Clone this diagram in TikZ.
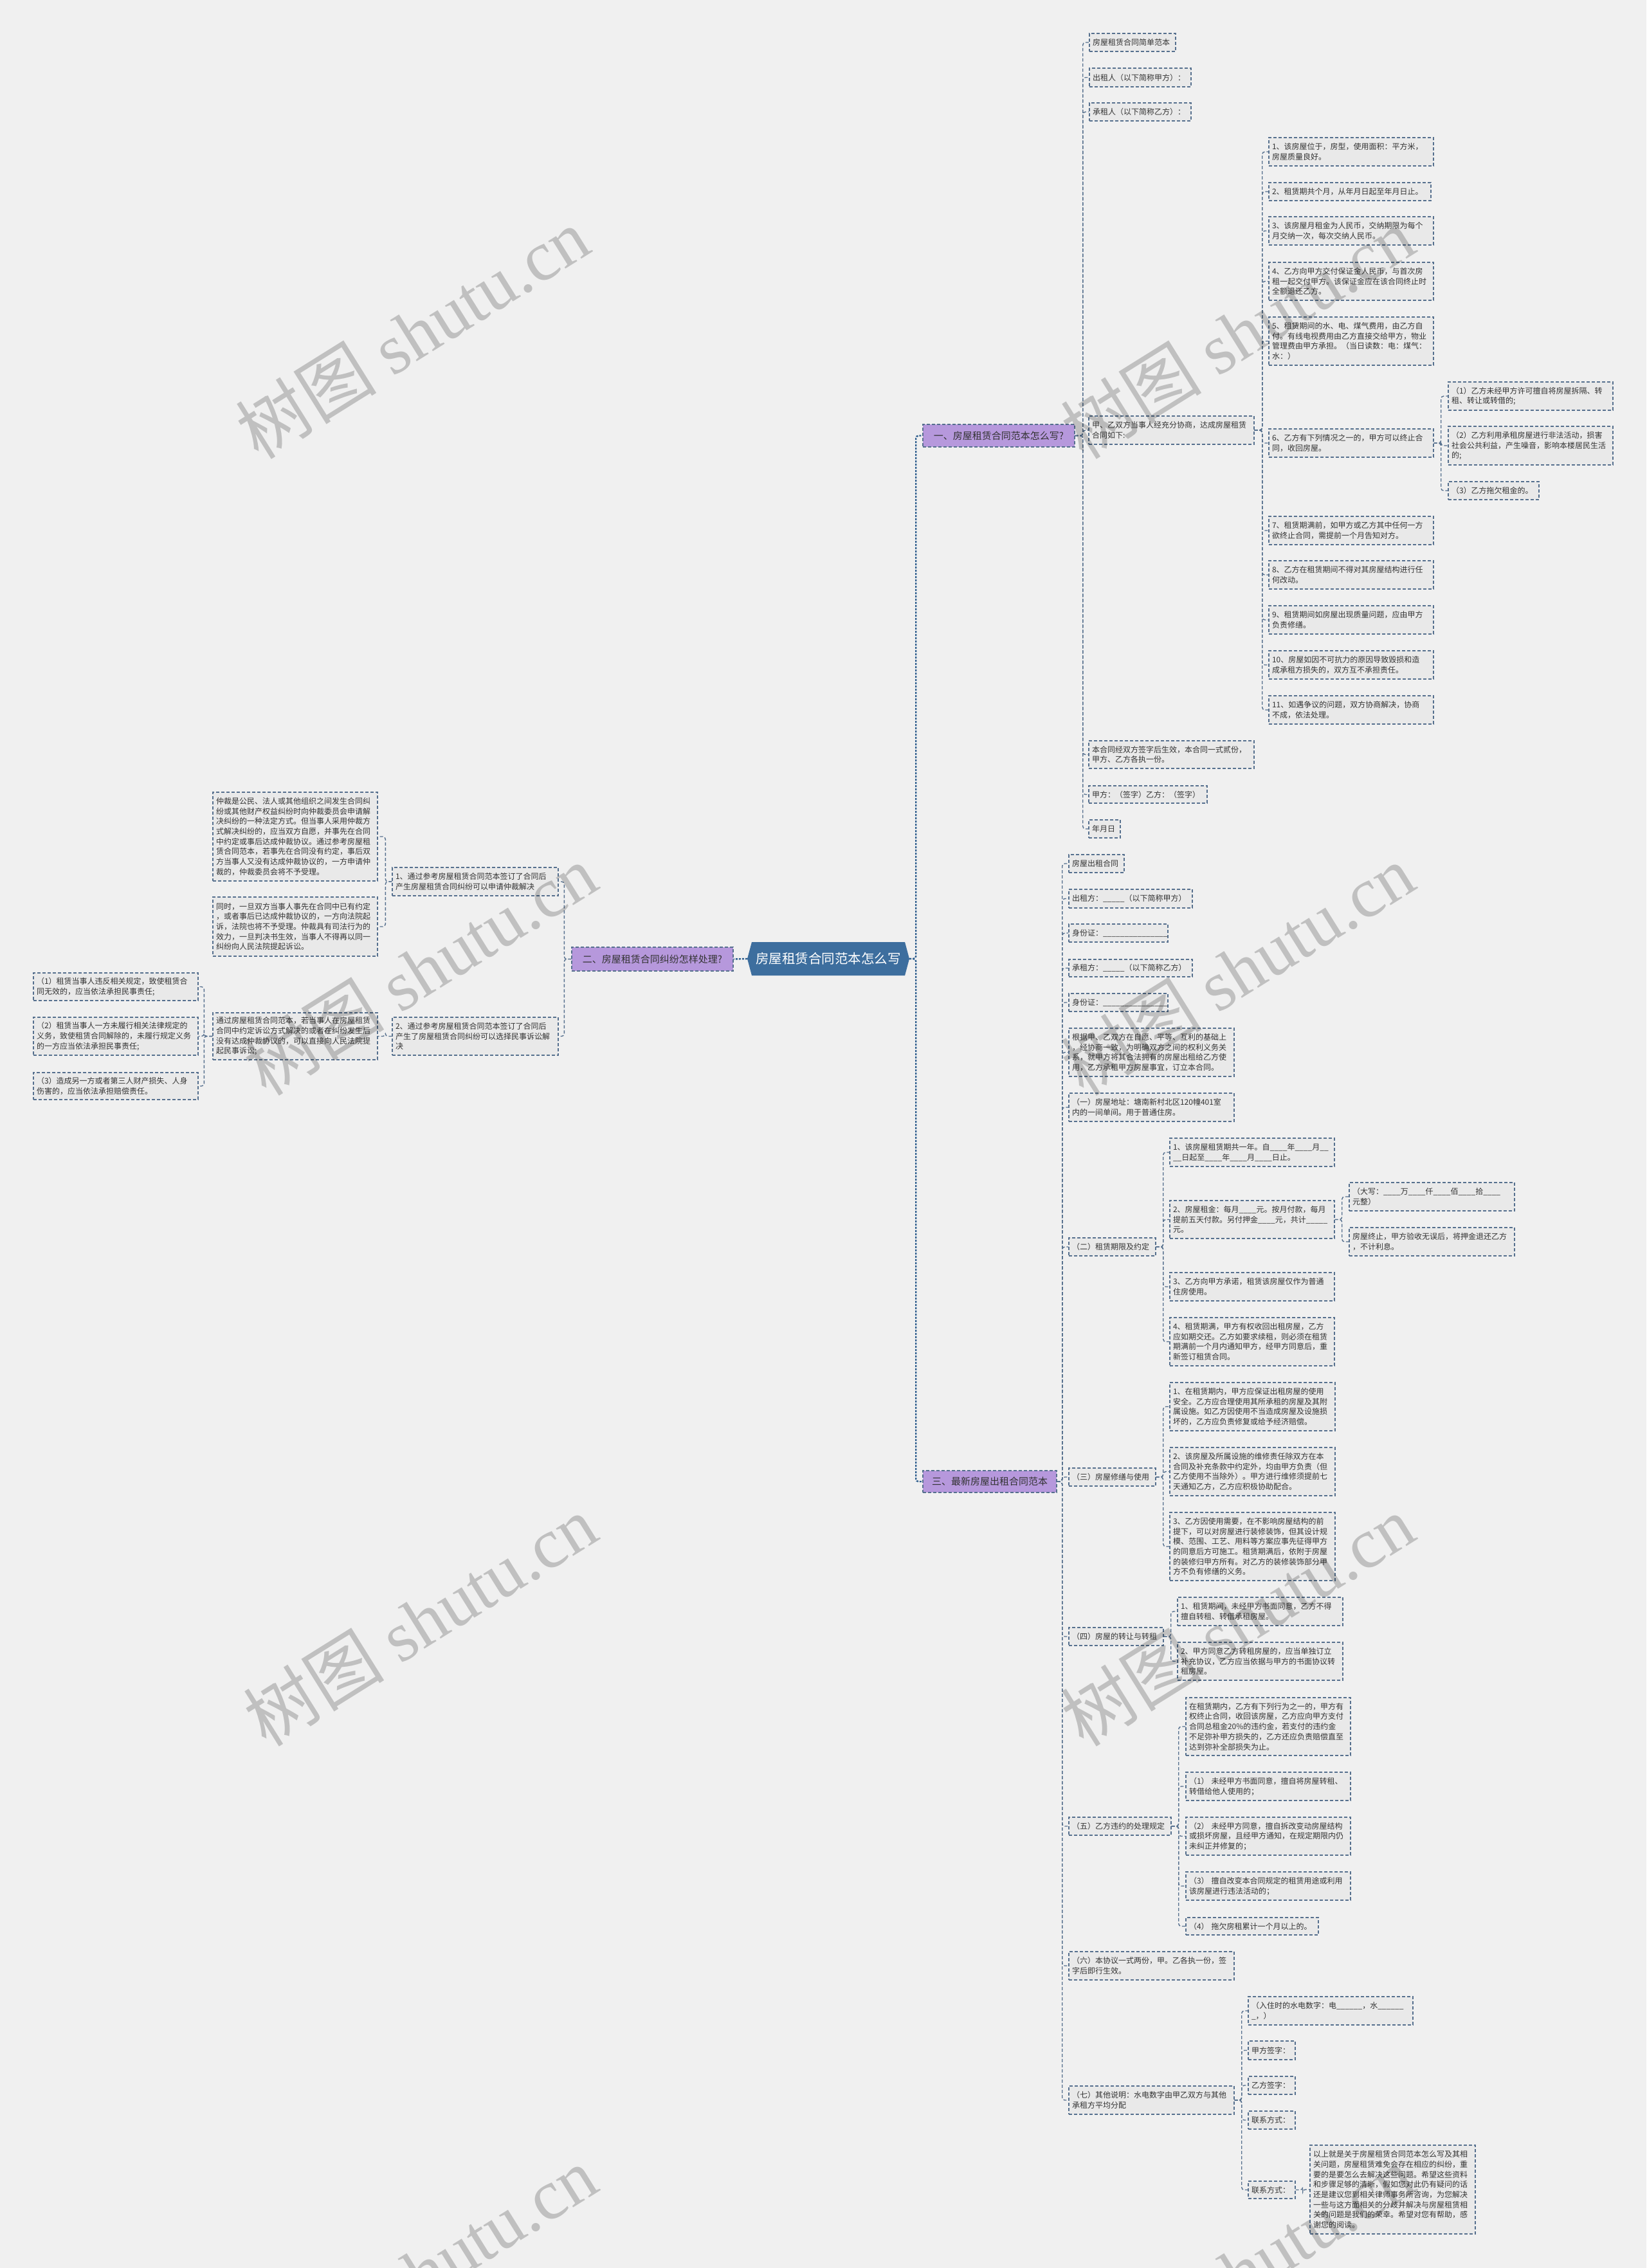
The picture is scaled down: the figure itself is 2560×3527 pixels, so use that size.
\documentclass[tikz,border=0pt]{standalone}
\usepackage{fontspec}
\setmainfont{Noto Sans CJK SC}
\newfontfamily\wmfont{Liberation Serif}
\usetikzlibrary{shapes.symbols}
\definecolor{bgc}{HTML}{F0F0F0}
\definecolor{boxfill}{HTML}{E9E9E9}
\definecolor{boxline}{HTML}{56708E}
\definecolor{connc}{HTML}{56708E}
\definecolor{mainc}{HTML}{2F5F8F}
\definecolor{purp}{HTML}{B698DC}
\definecolor{centc}{HTML}{3D6E9E}
\definecolor{txt}{HTML}{333333}
\tikzset{
 box/.style={draw=boxline, fill=boxfill, dash pattern=on 5pt off 3pt, line width=1.4pt, inner xsep=5pt, inner ysep=2pt, align=left, text=txt, font=\fontsize{12}{15.7}\selectfont},
 branch/.style={draw=boxline, fill=purp, dash pattern=on 5pt off 3pt, line width=1.4pt, inner xsep=6pt, inner ysep=2pt, text=txt, font=\fontsize{15}{18}\selectfont},
 conn/.style={draw=connc, dash pattern=on 5pt off 3pt, line width=1.4pt, rounded corners=4pt},
 mainconn/.style={draw=mainc, dash pattern=on 3pt off 2pt, line width=2.4pt, rounded corners=4pt},
 wmark/.style={rotate=32, opacity=0.2, text=black, font=\fontsize{110}{120}\selectfont},
}
\newcommand\bx[6]{\pgfmathsetmacro\mytw{#4-10}\node[box, text width=\mytw pt, minimum height=#5pt] (#1) at ({#2+#4/2},{#3+#5/2}) {#6};}
\newcommand\cR[3]{\foreach \cc in {#3}{\draw[conn] (#1.east) -- ++(#2,0) |- (\cc.west);}}
\newcommand\cL[3]{\foreach \cc in {#3}{\draw[conn] (#1.west) -- ++(-#2,0) |- (\cc.east);}}
\begin{document}
\begin{tikzpicture}[x=1pt,y=-1pt]
\useasboundingbox (0,0) rectangle (2560,3527);
\clip (0,0) rectangle (2560,3527);
\fill[bgc] (0,0) rectangle (2560,3527);

% center and branches
\node[shape=signal, signal to=west and east, signal pointer angle=150, fill=centc, minimum width=252pt, minimum height=52pt, inner sep=0pt, text=white, font=\fontsize{20.5}{24}\selectfont] (C) at (1288,1491) {房屋租赁合同范本怎么写};
\node[branch, minimum width=236pt, minimum height=35pt] (B1) at (1553,677.5) {一、房屋租赁合同范本怎么写?};
\node[branch, minimum width=251pt, minimum height=37pt] (B2) at (1014.5,1491.5) {二、房屋租赁合同纠纷怎样处理?};
\node[branch, minimum width=208pt, minimum height=34pt] (B3) at (1539,2304) {三、最新房屋出租合同范本};

% branch 1
\bx{a1}{1694}{52}{134}{28}{房屋租赁合同简单范本}
\bx{b1}{1694}{106}{158}{29}{出租人（以下简称甲方）：}
\bx{c1}{1694}{160}{158}{28}{承租人（以下简称乙方）：}
\bx{d1}{1693}{647}{257}{44}{甲、乙双方当事人经充分协商，达成房屋租赁\\合同如下:}
\bx{e1}{1693}{1152}{257}{43}{本合同经双方签字后生效，本合同一式贰份，\\甲方、乙方各执一份。}
\bx{f1}{1693}{1222}{184}{27}{甲方：（签字）乙方：（签字）}
\bx{g1}{1693}{1275}{49}{28}{年月日}

\bx{n1}{1973}{214}{256}{44}{1、该房屋位于，房型，使用面积：平方米，\\房屋质量良好。}
\bx{n2}{1973}{284}{252}{28}{2、租赁期共个月，从年月日起至年月日止。}
\bx{n3}{1973}{337}{256}{44}{3、该房屋月租金为人民币，交纳期限为每个\\月交纳一次，每次交纳人民币。}
\bx{n4}{1973}{408}{256}{59}{4、乙方向甲方交付保证金人民币，与首次房\\租一起交付甲方。该保证金应在该合同终止时\\全额退还乙方。}
\bx{n5}{1973}{493}{256}{75}{5、租赁期间的水、电、煤气费用，由乙方自\\付。有线电视费用由乙方直接交给甲方，物业\\管理费由甲方承担。（当日读数：电：煤气：\\水：）}
\bx{n6}{1973}{667}{256}{44}{6、乙方有下列情况之一的，甲方可以终止合\\同，收回房屋。}
\bx{n7}{1973}{803}{256}{44}{7、租赁期满前，如甲方或乙方其中任何一方\\欲终止合同，需提前一个月告知对方。}
\bx{n8}{1973}{872}{256}{44}{8、乙方在租赁期间不得对其房屋结构进行任\\何改动。}
\bx{n9}{1973}{942}{256}{44}{9、租赁期间如房屋出现质量问题，应由甲方\\负责修缮。}
\bx{n10}{1973}{1012}{256}{44}{10、房屋如因不可抗力的原因导致毁损和造\\成承租方损失的，双方互不承担责任。}
\bx{n11}{1973}{1082}{256}{44}{11、如遇争议的问题，双方协商解决，协商\\不成，依法处理。}

\bx{m1}{2252}{594}{256}{44}{（1）乙方未经甲方许可擅自将房屋拆隔、转\\租、转让或转借的;}
\bx{m2}{2252}{663}{256}{60}{（2）乙方利用承租房屋进行非法活动，损害\\社会公共利益，产生噪音，影响本楼居民生活\\的;}
\bx{m3}{2252}{749}{141}{28}{（3）乙方拖欠租金的。}

% branch 2
\bx{L1}{610}{1349}{258}{44}{1、通过参考房屋租赁合同范本签订了合同后\\产生房屋租赁合同纠纷可以申请仲裁解决}
\bx{L2}{610}{1582}{258}{59}{2、通过参考房屋租赁合同范本签订了合同后\\产生了房屋租赁合同纠纷可以选择民事诉讼解\\决}
\bx{L1a}{331}{1232}{256}{138}{仲裁是公民、法人或其他组织之间发生合同纠\\纷或其他财产权益纠纷时向仲裁委员会申请解\\决纠纷的一种法定方式。但当事人采用仲裁方\\式解决纠纷的，应当双方自愿，并事先在合同\\中约定或事后达成仲裁协议。通过参考房屋租\\赁合同范本，若事先在合同没有约定，事后双\\方当事人又没有达成仲裁协议的，一方申请仲\\裁的，仲裁委员会将不予受理。}
\bx{L1b}{331}{1395}{256}{92}{同时，一旦双方当事人事先在合同中已有约定\\，或者事后已达成仲裁协议的，一方向法院起\\诉，法院也将不予受理。仲裁具有司法行为的\\效力，一旦判决书生效，当事人不得再以同一\\纠纷向人民法院提起诉讼。}
\bx{L2a}{331}{1575}{256}{73}{通过房屋租赁合同范本，若当事人在房屋租赁\\合同中约定诉讼方式解决的或者在纠纷发生后\\没有达成仲裁协议的，可以直接向人民法院提\\起民事诉讼;}
\bx{p1}{52}{1513}{256}{43}{（1）租赁当事人违反相关规定，致使租赁合\\同无效的，应当依法承担民事责任;}
\bx{p2}{52}{1582}{256}{59}{（2）租赁当事人一方未履行相关法律规定的\\义务，致使租赁合同解除的，未履行规定义务\\的一方应当依法承担民事责任;}
\bx{p3}{52}{1668}{256}{42}{（3）造成另一方或者第三人财产损失、人身\\伤害的，应当依法承担赔偿责任。}

% branch 3
\bx{T1}{1662}{1329}{86}{28}{房屋出租合同}
\bx{T2}{1662}{1383}{192}{29}{出租方：\_\_\_\_\_（以下简称甲方）}
\bx{T3}{1662}{1437}{154}{28}{身份证：\_\_\_\_\_\_\_\_\_\_\_\_\_\_\_}
\bx{T4}{1662}{1492}{192}{27}{承租方：\_\_\_\_\_（以下简称乙方）}
\bx{T5}{1662}{1545}{154}{28}{身份证：\_\_\_\_\_\_\_\_\_\_\_\_\_\_\_}
\bx{T6}{1662}{1599}{257}{75}{根据甲、乙双方在自愿、平等、互利的基础上\\，经协商一致，为明确双方之间的权利义务关\\系，就甲方将其合法拥有的房屋出租给乙方使\\用，乙方承租甲方房屋事宜，订立本合同。}
\bx{T7}{1662}{1700}{257}{44}{（一）房屋地址：塘南新村北区120幢401室\\内的一间单间。用于普通住房。}
\bx{T8}{1662}{1925}{135}{28}{（二）租赁期限及约定}
\bx{T9}{1662}{2283}{135}{28}{（三）房屋修缮与使用}
\bx{T10}{1662}{2531}{147}{28}{（四）房屋的转让与转租}
\bx{T11}{1662}{2826}{159}{28}{（五）乙方违约的处理规定}
\bx{T12}{1662}{3035}{257}{44}{（六）本协议一式两份，甲。乙各执一份，签\\字后即行生效。}
\bx{T13}{1662}{3244}{257}{44}{（七）其他说明：水电数字由甲乙双方与其他\\承租方平均分配}

\bx{T81}{1819}{1770}{256}{44}{1、该房屋租赁期共一年。自\_\_\_\_年\_\_\_\_月\_\_\\\_\_日起至\_\_\_\_年\_\_\_\_月\_\_\_\_日止。}
\bx{T82}{1819}{1867}{256}{59}{2、房屋租金：每月\_\_\_\_元。按月付款，每月\\提前五天付款。另付押金\_\_\_\_元，共计\_\_\_\_\_\\元。}
\bx{T83}{1819}{1979}{256}{44}{3、乙方向甲方承诺，租赁该房屋仅作为普通\\住房使用。}
\bx{T84}{1819}{2049}{256}{75}{4、租赁期满，甲方有权收回出租房屋，乙方\\应如期交还。乙方如要求续租，则必须在租赁\\期满前一个月内通知甲方，经甲方同意后，重\\新签订租赁合同。}
\bx{T82a}{2098}{1839}{257}{44}{（大写：\_\_\_\_万\_\_\_\_仟\_\_\_\_佰\_\_\_\_拾\_\_\_\_\\元整）}
\bx{T82b}{2098}{1909}{257}{44}{房屋终止，甲方验收无误后，将押金退还乙方\\，不计利息。}

\bx{T91}{1819}{2150}{257}{75}{1、在租赁期内，甲方应保证出租房屋的使用\\安全。乙方应合理使用其所承租的房屋及其附\\属设施。如乙方因使用不当造成房屋及设施损\\坏的，乙方应负责修复或给予经济赔偿。}
\bx{T92}{1819}{2251}{257}{75}{2、该房屋及所属设施的维修责任除双方在本\\合同及补充条款中约定外，均由甲方负责（但\\乙方使用不当除外）。甲方进行维修须提前七\\天通知乙方，乙方应积极协助配合。}
\bx{T93}{1819}{2352}{257}{106}{3、乙方因使用需要，在不影响房屋结构的前\\提下，可以对房屋进行装修装饰，但其设计规\\模、范围、工艺、用料等方案应事先征得甲方\\的同意后方可施工。租赁期满后，依附于房屋\\的装修归甲方所有。对乙方的装修装饰部分甲\\方不负有修缮的义务。}

\bx{T101}{1831}{2484}{257}{44}{1、租赁期间，未经甲方书面同意，乙方不得\\擅自转租、转借承租房屋。}
\bx{T102}{1831}{2554}{257}{59}{2、甲方同意乙方转租房屋的，应当单独订立\\补充协议，乙方应当依据与甲方的书面协议转\\租房屋。}

\bx{T111}{1844}{2640}{256}{90}{在租赁期内，乙方有下列行为之一的，甲方有\\权终止合同，收回该房屋，乙方应向甲方支付\\合同总租金20\%的违约金，若支付的违约金\\不足弥补甲方损失的，乙方还应负责赔偿直至\\达到弥补全部损失为止。}
\bx{T112}{1844}{2756}{256}{44}{（1） 未经甲方书面同意，擅自将房屋转租、\\转借给他人使用的；}
\bx{T113}{1844}{2826}{256}{59}{（2） 未经甲方同意，擅自拆改变动房屋结构\\或损坏房屋，且经甲方通知，在规定期限内仍\\未纠正并修复的；}
\bx{T114}{1844}{2911}{256}{44}{（3） 擅自改变本合同规定的租赁用途或利用\\该房屋进行违法活动的；}
\bx{T115}{1844}{2982}{206}{27}{（4） 拖欠房租累计一个月以上的。}

\bx{T131}{1941}{3105}{256}{44}{（入住时的水电数字：电\_\_\_\_\_\_，水\_\_\_\_\_\_\\\_，）}
\bx{T132}{1941}{3174}{73}{29}{甲方签字：}
\bx{T133}{1941}{3229}{73}{28}{乙方签字：}
\bx{T134}{1941}{3283}{73}{28}{联系方式：}
\bx{T135}{1941}{3392}{73}{27}{联系方式：}
\bx{T135a}{2037}{3336}{257}{138}{以上就是关于房屋租赁合同范本怎么写及其相\\关问题，房屋租赁难免会存在相应的纠纷，重\\要的是要怎么去解决这些问题。希望这些资料\\和步骤足够的清晰，假如您对此仍有疑问的话\\还是建议您到相关律师事务所咨询，为您解决\\一些与这方面相关的分歧并解决与房屋租赁相\\关的问题是我们的荣幸。希望对您有帮助，感\\谢您的阅读。}

% connectors
\draw[mainconn] (C.east) -- ++(10,0) |- (B1.west);
\draw[mainconn] (C.east) -- ++(10,0) |- (B3.west);
\draw[mainconn] (C.west) -- (B2.east);

\cR{B1}{12}{a1,b1,c1,d1,e1,f1,g1}
\cR{d1}{12}{n1,n2,n3,n4,n5,n6,n7,n8,n9,n10,n11}
\cR{n6}{11}{m1,m2,m3}
\cL{B2}{11}{L1,L2}
\cL{L1}{10}{L1a,L1b}
\cL{L2}{10}{L2a}
\cL{L2a}{13}{p1,p2,p3}
\cR{B3}{8}{T1,T2,T3,T4,T5,T6,T7,T8,T9,T10,T11,T12,T13}
\cR{T8}{11}{T81,T82,T83,T84}
\cR{T82}{11}{T82a,T82b}
\cR{T9}{11}{T91,T92,T93}
\cR{T10}{11}{T101,T102}
\cR{T11}{11}{T111,T112,T113,T114,T115}
\cR{T13}{11}{T131,T132,T133,T134,T135}
\cR{T135}{11}{T135a}

% watermarks
\foreach \wx/\wy [count=\wi] in {641/518, 1924/518, 653/1508, 1924/1508, 653/2520, 1924/2520, 653/3533, 1924/3533}
  \node[wmark] (wm\wi) at (\wx,\wy) {树图 {\wmfont shutu.cn}};
\end{tikzpicture}
\end{document}
